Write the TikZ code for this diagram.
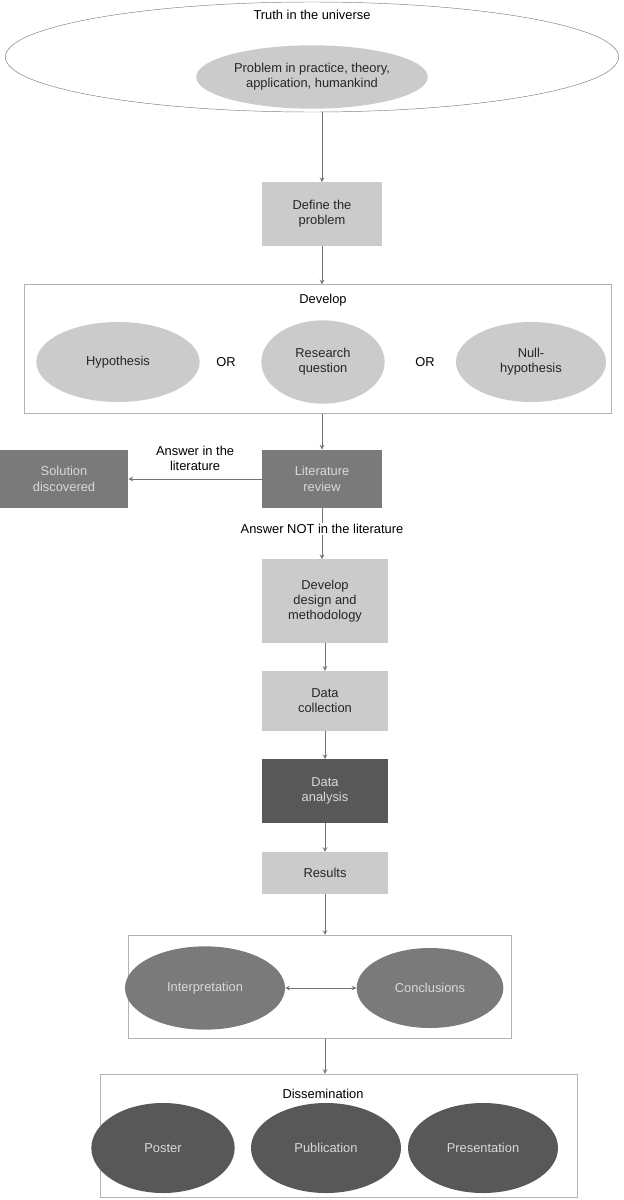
\documentclass[tikz,border=0pt]{standalone}
\usepackage{fontspec}
\setmainfont{Liberation Sans}
\usetikzlibrary{shapes.geometric}
\definecolor{lightg}{HTML}{CBCBCB}
\definecolor{midg}{HTML}{7A7A7A}
\definecolor{darkg}{HTML}{585858}
\begin{document}
\begin{tikzpicture}[x=0.03cm,y=-0.03cm,>=stealth,font=\fontsize{11}{13}\selectfont,
 lbox/.style = {draw=none, fill = lightg, align=center, minimum width=3.6cm, text=black!85},
 dbox/.style = {draw=none, fill = midg, align=center, minimum width=3.6cm, text=black!15},
 blob/.style = {ellipse, fill = lightg, align=center, text=black!85},
 dblob/.style = {ellipse, fill = midg, align=center, text=black!15},
 frame/.style = {draw=black!30, thick, inner sep=0pt},
 flow/.style = {->, draw=black!55, thick},]
\useasboundingbox (0,0) rectangle (624,1200);
\node (truth) at (312,57)[ellipse, draw=black!50, minimum width=18.4cm, minimum height=3.3cm] {};
\node at (312,15) {Truth in the universe};
\node (prob) at (312,77)[blob, minimum width=6cm, minimum height=1.9cm] {Problem in practice, theory,\\application, humankind};
\node (define) at (322,214)[lbox, minimum height=1.9cm] {Define the\\problem};
\node (dev) at (318,349)[frame, minimum width=17.6cm, minimum height=3.85cm] {};
\node at (323,300) {Develop};
\node (hyp) at (118,362)[blob, minimum width=4.9cm, minimum height=2.4cm] {Hypothesis};
\node (or1) at (226,362) {OR};
\node (rq) at (323,362)[blob, minimum width=3.7cm, minimum height=2.5cm] {Research\\question};
\node (or2) at (425,362) {OR};
\node (null) at (531,362)[blob, minimum width=4.5cm, minimum height=2.4cm] {Null-\\hypothesis};
\node (lit) at (322,479)[dbox, minimum height=1.75cm] {Literature\\review};
\node (sol) at (64,479)[dbox, minimum width=3.85cm, minimum height=1.75cm] {Solution\\discovered};
\node (design) at (325,601)[lbox, minimum width=3.8cm, minimum height=2.5cm] {Develop\\design and\\methodology};
\node (coll) at (325,701)[lbox, minimum width=3.8cm, minimum height=1.8cm] {Data\\collection};
\node (anal) at (325,791)[dbox, fill=darkg, minimum width=3.8cm, minimum height=1.9cm] {Data\\analysis};
\node (res) at (325,873)[lbox, minimum width=3.8cm, minimum height=1.25cm] {Results};
\node (concl) at (320,987)[frame, minimum width=11.5cm, minimum height=3.1cm] {};
\node (interp) at (205,988)[dblob, minimum width=4.8cm, minimum height=2.5cm] {Interpretation};
\node (conc) at (430,988)[dblob, minimum width=4.4cm, minimum height=2.4cm] {Conclusions};
\node (diss) at (339,1136)[frame, minimum width=14.3cm, minimum height=3.7cm] {};
\node at (323,1094) {Dissemination};
\node (post) at (163,1148)[dblob, fill=darkg, minimum width=4.3cm, minimum height=2.7cm] {Poster};
\node (pub) at (326,1148)[dblob, fill=darkg, minimum width=4.5cm, minimum height=2.7cm] {Publication};
\node (pres) at (483,1148)[dblob, fill=darkg, minimum width=4.5cm, minimum height=2.7cm] {Presentation};
\draw[flow] (truth.south -| define) -- (define);
\draw[flow] (define) -- (dev.north -| define);
\draw[flow] (dev.south -| lit) -- (lit);
\draw[flow] (lit) -- node[above, align=center, pos=0.5, yshift=3pt] {Answer in the\\literature} (sol);
\draw[flow] (lit) -- node[pos=0.4, fill=white, inner sep=1pt] {Answer NOT in the literature} (design.north -| lit);
\draw[flow] (design) -- (coll);
\draw[flow] (coll) -- (anal);
\draw[flow] (anal) -- (res);
\draw[flow] (res) -- (concl.north -| res);
\draw[<->, draw=black!55, thick] (interp) -- (conc);
\draw[flow] (concl.south -| res) -- (diss.north -| res);
\end{tikzpicture}
\end{document}
